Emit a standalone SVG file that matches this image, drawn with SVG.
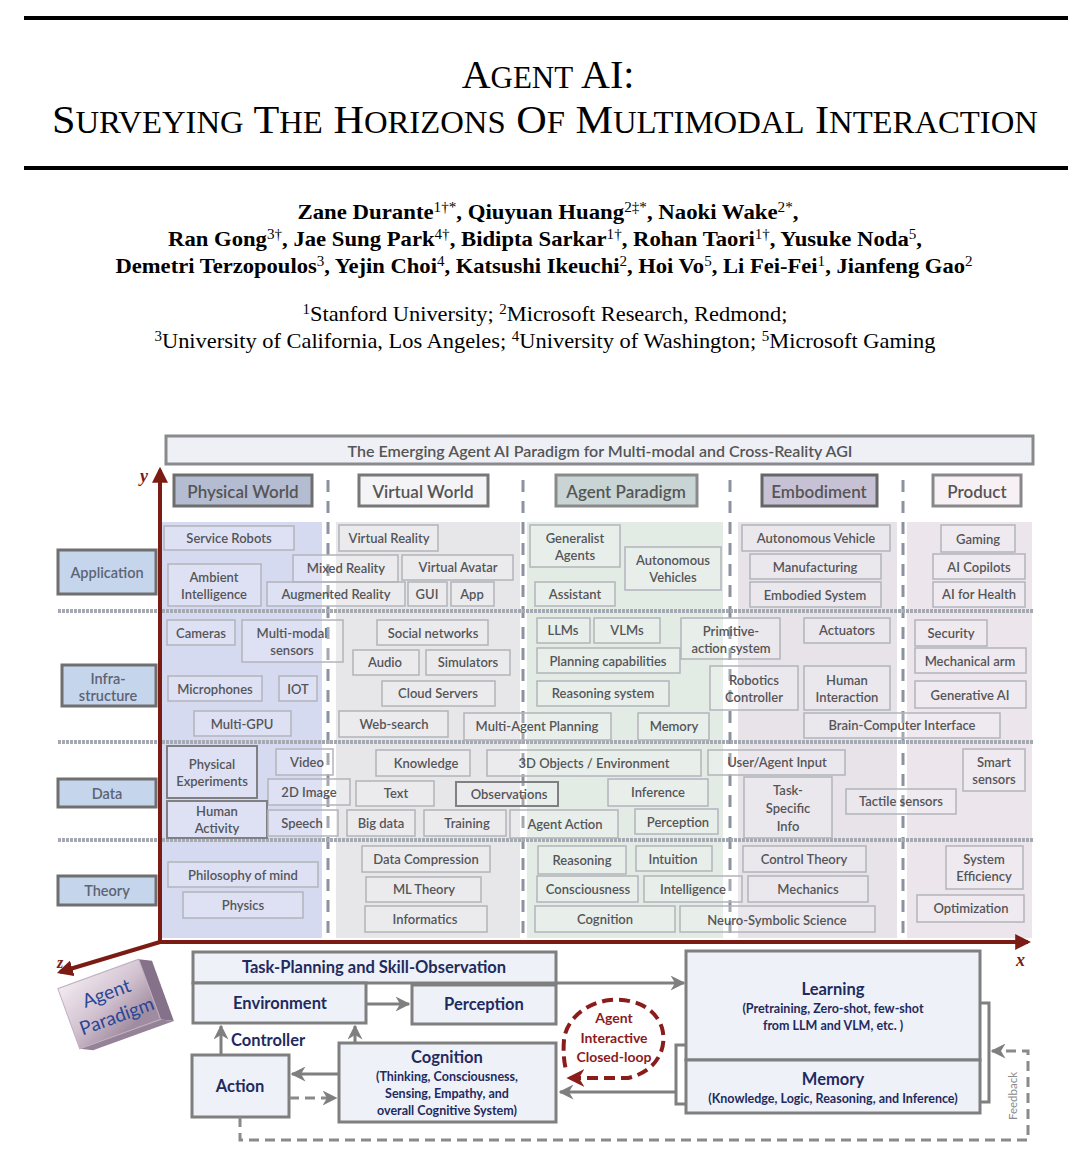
<svg xmlns="http://www.w3.org/2000/svg" width="1080" height="1159" viewBox="0 0 1080 1159">
<defs>
<style>
.ser{font-family:"Liberation Serif","Times New Roman",serif;fill:#000;text-anchor:middle}
.bx{fill:#ffffff;fill-opacity:0.2;stroke:#b2b4ba;stroke-width:1.5}
.bxd{fill:#ffffff;fill-opacity:0.2;stroke:#808084;stroke-width:2}
.t{font-family:Lato,"Liberation Sans",sans-serif;font-size:13px;font-weight:600;fill:#555559;text-anchor:middle;dominant-baseline:central}
.rl{fill:#c5d5ec;stroke:#6f6f6f;stroke-width:3}
.rlt{font-family:Lato,"Liberation Sans",sans-serif;font-size:14.5px;font-weight:600;fill:#5d6474;text-anchor:middle;dominant-baseline:central}
.ct{font-family:Lato,"Liberation Sans",sans-serif;font-size:17px;font-weight:600;fill:#555;text-anchor:middle;dominant-baseline:central}
.bb{fill:#eef1f8;stroke:#7f7f7f;stroke-width:3}
.bt{font-family:Lato,"Liberation Sans",sans-serif;font-size:16.5px;font-weight:700;fill:#1f2b5e;text-anchor:middle;dominant-baseline:central}
.bs{font-family:Lato,"Liberation Sans",sans-serif;font-size:12.5px;font-weight:700;fill:#1f2b5e;text-anchor:middle;dominant-baseline:central}
.div{stroke:#8c93a0;stroke-width:3;stroke-dasharray:12 9;fill:none}
.sep{stroke:#a5a9b1;stroke-width:4;stroke-dasharray:3 1}
.ax{stroke:#7b1c14;stroke-width:4;fill:none}
.ar{stroke:#7f7f7f;stroke-width:3;fill:none}
.ard{stroke:#8a8a8a;stroke-width:3;fill:none;stroke-dasharray:10 6}
</style>
<marker id="ah" viewBox="0 0 10 10" refX="9" refY="5" markerWidth="5" markerHeight="5" orient="auto" markerUnits="strokeWidth">
<path d="M0,0 L10,5 L0,10 L3,5 z" fill="#7f7f7f"/>
</marker>
<marker id="axh" viewBox="0 0 10 10" refX="8" refY="5" markerWidth="4" markerHeight="4" orient="auto" markerUnits="strokeWidth">
<path d="M0,0 L10,5 L0,10 z" fill="#7b1c14"/>
</marker>
<marker id="rh" viewBox="0 0 10 10" refX="8" refY="5" markerWidth="4.5" markerHeight="4.5" orient="auto-start-reverse" markerUnits="strokeWidth">
<path d="M0,0 L10,5 L0,10 L3,5 z" fill="#8b1c1c"/>
</marker>
<linearGradient id="blk" x1="0" y1="0" x2="0.6" y2="1">
<stop offset="0" stop-color="#f2eaf1"/>
<stop offset="0.55" stop-color="#d2c2d0"/>
<stop offset="1" stop-color="#a08ca0"/>
</linearGradient>
</defs>
<rect width="1080" height="1159" fill="#ffffff"/>

<g id="title">
<rect x="24" y="16" width="1044" height="4" fill="#000"/>
<text class="ser" x="548" y="88" font-size="40">A<tspan font-size="31">GENT</tspan> AI:</text>
<text class="ser" x="545" y="133" font-size="40" textLength="986" lengthAdjust="spacingAndGlyphs">S<tspan font-size="31">URVEYING</tspan> T<tspan font-size="31">HE</tspan> H<tspan font-size="31">ORIZONS</tspan> O<tspan font-size="31">F</tspan> M<tspan font-size="31">ULTIMODAL</tspan> I<tspan font-size="31">NTERACTION</tspan></text>
<rect x="24" y="166" width="1044" height="4" fill="#000"/>
</g>

<g id="authors" font-weight="bold">
<text class="ser" x="548" y="219" font-size="21" font-weight="bold" textLength="501" lengthAdjust="spacingAndGlyphs">Zane Durante<tspan font-size="14" font-weight="normal" baseline-shift="super">1†*</tspan>, Qiuyuan Huang<tspan font-size="14" font-weight="normal" baseline-shift="super">2‡*</tspan>, Naoki Wake<tspan font-size="14" font-weight="normal" baseline-shift="super">2*</tspan>,</text>
<text class="ser" x="545" y="246" font-size="21" font-weight="bold" textLength="754" lengthAdjust="spacingAndGlyphs">Ran Gong<tspan font-size="14" font-weight="normal" baseline-shift="super">3†</tspan>, Jae Sung Park<tspan font-size="14" font-weight="normal" baseline-shift="super">4†</tspan>, Bidipta Sarkar<tspan font-size="14" font-weight="normal" baseline-shift="super">1†</tspan>, Rohan Taori<tspan font-size="14" font-weight="normal" baseline-shift="super">1†</tspan>, Yusuke Noda<tspan font-size="14" font-weight="normal" baseline-shift="super">5</tspan>,</text>
<text class="ser" x="544" y="273" font-size="21" font-weight="bold" textLength="857" lengthAdjust="spacingAndGlyphs">Demetri Terzopoulos<tspan font-size="14" font-weight="normal" baseline-shift="super">3</tspan>, Yejin Choi<tspan font-size="14" font-weight="normal" baseline-shift="super">4</tspan>, Katsushi Ikeuchi<tspan font-size="14" font-weight="normal" baseline-shift="super">2</tspan>, Hoi Vo<tspan font-size="14" font-weight="normal" baseline-shift="super">5</tspan>, Li Fei-Fei<tspan font-size="14" font-weight="normal" baseline-shift="super">1</tspan>, Jianfeng Gao<tspan font-size="14" font-weight="normal" baseline-shift="super">2</tspan></text>
</g>
<g id="affiliations">
<text class="ser" x="545" y="321" font-size="21" textLength="485" lengthAdjust="spacingAndGlyphs"><tspan font-size="14" baseline-shift="super">1</tspan>Stanford University; <tspan font-size="14" baseline-shift="super">2</tspan>Microsoft Research, Redmond;</text>
<text class="ser" x="545" y="348" font-size="21" textLength="781" lengthAdjust="spacingAndGlyphs"><tspan font-size="14" baseline-shift="super">3</tspan>University of California, Los Angeles; <tspan font-size="14" baseline-shift="super">4</tspan>University of Washington; <tspan font-size="14" baseline-shift="super">5</tspan>Microsoft Gaming</text>
</g>

<g id="column-backgrounds">
<rect x="162" y="522" width="160" height="416" fill="#d6daf0"/>
<rect x="336" y="522" width="184" height="416" fill="#e7e7ea"/>
<rect x="527" y="522" width="196" height="416" fill="#e3ebe5"/>
<rect x="738" y="522" width="159" height="416" fill="#e7e3e9"/>
<rect x="907" y="522" width="125" height="416" fill="#ece5eb"/>
</g>

<g id="header">
<rect x="166" y="436" width="867" height="28" fill="#eef0f6" stroke="#8a8a8e" stroke-width="3"/>
<text x="600" y="450" font-family="Lato,'Liberation Sans',sans-serif" font-size="16" font-weight="600" fill="#555" text-anchor="middle" dominant-baseline="central">The Emerging Agent AI Paradigm for Multi-modal and Cross-Reality AGI</text>
</g>

<g id="cat-physical"><rect x="174" y="475" width="138" height="31" fill="#b4bcd2" stroke="#6e6e6e" stroke-width="3"/><text class="ct" x="243" y="491">Physical World</text></g>
<g id="cat-virtual"><rect x="359" y="475" width="129" height="31" fill="#f4f4f7" stroke="#777" stroke-width="3"/><text class="ct" x="423" y="491">Virtual World</text></g>
<g id="cat-agent"><rect x="556" y="475" width="141" height="31" fill="#c9d5d5" stroke="#8a8a8a" stroke-width="3"/><text class="ct" x="626" y="491" font-size="15.5">Agent Paradigm</text></g>
<g id="cat-embodiment"><rect x="762" y="475" width="115" height="31" fill="#c7c1d5" stroke="#666" stroke-width="3"/><text class="ct" x="819" y="491">Embodiment</text></g>
<g id="cat-product"><rect x="933" y="475" width="88" height="31" fill="#f7f1f5" stroke="#888" stroke-width="3"/><text class="ct" x="977" y="491">Product</text></g>

<g id="dividers">
<line class="div" x1="328" y1="480" x2="328" y2="940"/>
<line class="div" x1="523" y1="480" x2="523" y2="940"/>
<line class="div" x1="730" y1="480" x2="730" y2="940"/>
<line class="div" x1="903" y1="480" x2="903" y2="940"/>
</g>

<g id="row-separators">
<line class="sep" x1="58" y1="611" x2="1033" y2="611"/>
<line class="sep" x1="58" y1="742" x2="1033" y2="742"/>
<line class="sep" x1="58" y1="840" x2="1033" y2="840"/>
</g>

<g id="row-application"><rect class="rl" x="58" y="550" width="98" height="44"/><text class="rlt" x="107" y="572">Application</text></g>
<g id="row-infra"><rect class="rl" x="62" y="665" width="94" height="41"/><text class="rlt" x="108" y="686"><tspan x="108" dy="-8.5">Infra-</tspan><tspan x="108" dy="17">structure</tspan></text></g>
<g id="row-data"><rect class="rl" x="58" y="779" width="98" height="28"/><text class="rlt" x="107" y="793">Data</text></g>
<g id="row-theory"><rect class="rl" x="58" y="876" width="98" height="29"/><text class="rlt" x="107" y="890">Theory</text></g>

<!-- Application row -->
<g id="n-service-robots"><rect class="bx" x="164" y="526" width="130" height="24"/><text class="t" x="229" y="538">Service Robots</text></g>
<g id="n-ambient"><rect class="bx" x="168" y="564" width="93" height="42"/><text class="t" x="214" y="585"><tspan x="214" dy="-8.5">Ambient</tspan><tspan x="214" dy="17">Intelligence</tspan></text></g>
<g id="n-mixed-reality"><rect class="bx" x="293" y="555" width="105" height="27"/><text class="t" x="346" y="568">Mixed Reality</text></g>
<g id="n-augmented-reality"><rect class="bx" x="267" y="582" width="138" height="24"/><text class="t" x="336" y="594">Augmented Reality</text></g>
<g id="n-virtual-reality"><rect class="bx" x="339" y="525" width="99" height="26"/><text class="t" x="389" y="538">Virtual Reality</text></g>
<g id="n-virtual-avatar"><rect class="bx" x="402" y="555" width="111" height="25"/><text class="t" x="458" y="567">Virtual Avatar</text></g>
<g id="n-gui"><rect class="bx" x="408" y="582" width="39" height="24"/><text class="t" x="427" y="594">GUI</text></g>
<g id="n-app"><rect class="bx" x="451" y="582" width="43" height="24"/><text class="t" x="472" y="594">App</text></g>
<g id="n-generalist"><rect class="bx" x="530" y="525" width="90" height="42"/><text class="t" x="575" y="546"><tspan x="575" dy="-8.5">Generalist</tspan><tspan x="575" dy="17">Agents</tspan></text></g>
<g id="n-autonomous-vehicles"><rect class="bx" x="625" y="547" width="96" height="43"/><text class="t" x="673" y="568"><tspan x="673" dy="-8.5">Autonomous</tspan><tspan x="673" dy="17">Vehicles</tspan></text></g>
<g id="n-assistant"><rect class="bx" x="535" y="582" width="80" height="24"/><text class="t" x="575" y="594">Assistant</text></g>
<g id="n-autonomous-vehicle"><rect class="bx" x="742" y="525" width="148" height="26"/><text class="t" x="816" y="538">Autonomous Vehicle</text></g>
<g id="n-manufacturing"><rect class="bx" x="750" y="554" width="131" height="25"/><text class="t" x="815" y="567">Manufacturing</text></g>
<g id="n-embodied-system"><rect class="bx" x="750" y="582" width="131" height="25"/><text class="t" x="815" y="595">Embodied System</text></g>
<g id="n-gaming"><rect class="bx" x="941" y="525" width="74" height="27"/><text class="t" x="978" y="539">Gaming</text></g>
<g id="n-ai-copilots"><rect class="bx" x="933" y="554" width="92" height="25"/><text class="t" x="979" y="567">AI Copilots</text></g>
<g id="n-ai-health"><rect class="bx" x="933" y="582" width="92" height="25"/><text class="t" x="979" y="594">AI for Health</text></g>

<!-- Infrastructure row -->
<g id="n-cameras"><rect class="bx" x="167" y="620" width="68" height="25"/><text class="t" x="201" y="633">Cameras</text></g>
<g id="n-multimodal-sensors"><rect class="bx" x="242" y="620" width="101" height="42"/><text class="t" x="292" y="641"><tspan x="292" dy="-8.5">Multi-modal</tspan><tspan x="292" dy="17">sensors</tspan></text></g>
<g id="n-microphones"><rect class="bx" x="168" y="676" width="94" height="25"/><text class="t" x="215" y="689">Microphones</text></g>
<g id="n-iot"><rect class="bx" x="279" y="676" width="38" height="25"/><text class="t" x="298" y="689">IOT</text></g>
<g id="n-multi-gpu"><rect class="bx" x="194" y="711" width="97" height="25"/><text class="t" x="242" y="724">Multi-GPU</text></g>
<g id="n-social-networks"><rect class="bx" x="377" y="620" width="111" height="25"/><text class="t" x="433" y="633">Social networks</text></g>
<g id="n-audio"><rect class="bx" x="353" y="650" width="66" height="25"/><text class="t" x="385" y="662">Audio</text></g>
<g id="n-simulators"><rect class="bx" x="426" y="650" width="84" height="25"/><text class="t" x="468" y="662">Simulators</text></g>
<g id="n-cloud-servers"><rect class="bx" x="382" y="681" width="113" height="25"/><text class="t" x="438" y="693">Cloud Servers</text></g>
<g id="n-web-search"><rect class="bx" x="339" y="711" width="109" height="26"/><text class="t" x="394" y="724">Web-search</text></g>
<g id="n-multi-agent-planning"><rect class="bx" x="464" y="713" width="147" height="27"/><text class="t" x="537" y="726">Multi-Agent Planning</text></g>
<g id="n-llms"><rect class="bx" x="537" y="618" width="53" height="25"/><text class="t" x="563" y="630">LLMs</text></g>
<g id="n-vlms"><rect class="bx" x="594" y="618" width="66" height="25"/><text class="t" x="627" y="630">VLMs</text></g>
<g id="n-planning"><rect class="bx" x="537" y="648" width="143" height="25"/><text class="t" x="608" y="661">Planning capabilities</text></g>
<g id="n-reasoning-system"><rect class="bx" x="537" y="681" width="132" height="25"/><text class="t" x="603" y="693">Reasoning system</text></g>
<g id="n-primitive"><rect class="bx" x="681" y="618" width="99" height="41"/><text class="t" x="731" y="639"><tspan x="731" dy="-8.5">Primitive-</tspan><tspan x="731" dy="17">action system</tspan></text></g>
<g id="n-memory-i"><rect class="bx" x="638" y="713" width="71" height="27"/><text class="t" x="674" y="726">Memory</text></g>
<g id="n-robotics"><rect class="bx" x="710" y="666" width="88" height="44"/><text class="t" x="754" y="688"><tspan x="754" dy="-8.5">Robotics</tspan><tspan x="754" dy="17">Controller</tspan></text></g>
<g id="n-actuators"><rect class="bx" x="804" y="618" width="86" height="25"/><text class="t" x="847" y="630">Actuators</text></g>
<g id="n-human-interaction"><rect class="bx" x="804" y="666" width="86" height="44"/><text class="t" x="847" y="688"><tspan x="847" dy="-8.5">Human</tspan><tspan x="847" dy="17">Interaction</tspan></text></g>
<g id="n-bci"><rect class="bx" x="804" y="713" width="196" height="25"/><text class="t" x="902" y="725">Brain-Computer Interface</text></g>
<g id="n-security"><rect class="bx" x="915" y="620" width="72" height="26"/><text class="t" x="951" y="633">Security</text></g>
<g id="n-mechanical-arm"><rect class="bx" x="915" y="648" width="111" height="25"/><text class="t" x="970" y="661">Mechanical arm</text></g>
<g id="n-generative-ai"><rect class="bx" x="915" y="681" width="111" height="27"/><text class="t" x="970" y="695">Generative AI</text></g>

<!-- Data row -->
<g id="n-physical-experiments"><rect class="bxd" x="167" y="746" width="90" height="52"/><text class="t" x="212" y="772"><tspan x="212" dy="-8.5">Physical</tspan><tspan x="212" dy="17">Experiments</tspan></text></g>
<g id="n-video"><rect class="bx" x="276" y="749" width="57" height="26"/><text class="t" x="307" y="762">Video</text></g>
<g id="n-2d-image"><rect class="bx" x="268" y="779" width="82" height="26"/><text class="t" x="309" y="792">2D Image</text></g>
<g id="n-human-activity"><rect class="bxd" x="167" y="801" width="100" height="37"/><text class="t" x="217" y="819"><tspan x="217" dy="-8.5">Human</tspan><tspan x="217" dy="17">Activity</tspan></text></g>
<g id="n-speech"><rect class="bx" x="268" y="810" width="70" height="26"/><text class="t" x="302" y="823">Speech</text></g>
<g id="n-knowledge"><rect class="bx" x="376" y="750" width="94" height="26"/><text class="t" x="426" y="763">Knowledge</text></g>
<g id="n-text"><rect class="bx" x="356" y="781" width="78" height="25"/><text class="t" x="396" y="793">Text</text></g>
<g id="n-big-data"><rect class="bx" x="347" y="810" width="68" height="26"/><text class="t" x="381" y="823">Big data</text></g>
<g id="n-training"><rect class="bx" x="424" y="810" width="82" height="26"/><text class="t" x="467" y="823">Training</text></g>
<g id="n-3d-objects"><rect class="bx" x="487" y="750" width="214" height="26"/><text class="t" x="594" y="763">3D Objects / Environment</text></g>
<g id="n-observations"><rect class="bxd" x="456" y="782" width="102" height="24"/><text class="t" x="509" y="794">Observations</text></g>
<g id="n-inference"><rect class="bx" x="608" y="779" width="100" height="27"/><text class="t" x="658" y="792">Inference</text></g>
<g id="n-agent-action"><rect class="bx" x="510" y="810" width="108" height="28"/><text class="t" x="565" y="824">Agent Action</text></g>
<g id="n-perception-d"><rect class="bx" x="635" y="809" width="83" height="25"/><text class="t" x="678" y="822">Perception</text></g>
<g id="n-user-input"><rect class="bx" x="708" y="750" width="137" height="25"/><text class="t" x="777" y="762">User/Agent  Input</text></g>
<g id="n-task-specific"><rect class="bx" x="744" y="777" width="88" height="61"/><text class="t" x="788" y="808"><tspan x="788" dy="-18">Task-</tspan><tspan x="788" dy="18">Specific</tspan><tspan x="788" dy="18">Info</tspan></text></g>
<g id="n-tactile"><rect class="bx" x="846" y="789" width="110" height="25"/><text class="t" x="901" y="801">Tactile sensors</text></g>
<g id="n-smart-sensors"><rect class="bx" x="963" y="749" width="62" height="42"/><text class="t" x="994" y="770"><tspan x="994" dy="-8.5">Smart</tspan><tspan x="994" dy="17">sensors</tspan></text></g>

<!-- Theory row -->
<g id="n-philosophy"><rect class="bx" x="168" y="862" width="150" height="25"/><text class="t" x="243" y="875">Philosophy of mind</text></g>
<g id="n-physics"><rect class="bx" x="183" y="892" width="120" height="26"/><text class="t" x="243" y="905">Physics</text></g>
<g id="n-data-compression"><rect class="bx" x="362" y="846" width="128" height="26"/><text class="t" x="426" y="859">Data Compression</text></g>
<g id="n-ml-theory"><rect class="bx" x="366" y="877" width="115" height="25"/><text class="t" x="424" y="889">ML Theory</text></g>
<g id="n-informatics"><rect class="bx" x="365" y="906" width="122" height="26"/><text class="t" x="425" y="919">Informatics</text></g>
<g id="n-reasoning"><rect class="bx" x="538" y="846" width="88" height="28"/><text class="t" x="582" y="860">Reasoning</text></g>
<g id="n-intuition"><rect class="bx" x="636" y="846" width="76" height="25"/><text class="t" x="673" y="859">Intuition</text></g>
<g id="n-consciousness"><rect class="bx" x="537" y="876" width="101" height="26"/><text class="t" x="588" y="889">Consciousness</text></g>
<g id="n-intelligence"><rect class="bx" x="644" y="876" width="98" height="26"/><text class="t" x="693" y="889">Intelligence</text></g>
<g id="n-cognition-t"><rect class="bx" x="535" y="906" width="140" height="26"/><text class="t" x="605" y="919">Cognition</text></g>
<g id="n-neuro-symbolic"><rect class="bx" x="680" y="906" width="195" height="26"/><text class="t" x="777" y="920">Neuro-Symbolic Science</text></g>
<g id="n-control-theory"><rect class="bx" x="743" y="846" width="123" height="26"/><text class="t" x="804" y="859">Control Theory</text></g>
<g id="n-mechanics"><rect class="bx" x="748" y="876" width="120" height="26"/><text class="t" x="808" y="889">Mechanics</text></g>
<g id="n-system-efficiency"><rect class="bx" x="946" y="846" width="77" height="43"/><text class="t" x="984" y="867"><tspan x="984" dy="-8.5">System</tspan><tspan x="984" dy="17">Efficiency</tspan></text></g>
<g id="n-optimization"><rect class="bx" x="917" y="895" width="107" height="27"/><text class="t" x="971" y="908">Optimization</text></g>

<g id="axes">
<line class="ax" x1="160" y1="944" x2="160" y2="470" marker-end="url(#axh)"/>
<line class="ax" x1="158" y1="942" x2="1028" y2="942" marker-end="url(#axh)"/>
<line class="ax" x1="160" y1="942" x2="60" y2="972" marker-end="url(#axh)"/>
<text x="140" y="482" font-family="'Liberation Serif',serif" font-style="italic" font-weight="bold" font-size="18" fill="#7b1c14">y</text>
<text x="1016" y="966" font-family="'Liberation Serif',serif" font-style="italic" font-weight="bold" font-size="18" fill="#7b1c14">x</text>
<text x="57" y="968" font-family="'Liberation Serif',serif" font-style="italic" font-weight="bold" font-size="16" fill="#7b1c14">z</text>
</g>

<g id="agent-paradigm-block" transform="translate(112,1003) rotate(-20)">
<polygon points="40,-32 52,-26 52,38 40,32" fill="#85728a"/>
<polygon points="-46,32 40,32 52,38 -34,38" fill="#958299"/>
<rect x="-46" y="-32" width="86" height="64" fill="url(#blk)" stroke="#bfb0bf" stroke-width="1"/>
<text x="-2" y="-12" font-family="Lato,'Liberation Sans',sans-serif" font-size="19" fill="#2a4696" text-anchor="middle" dominant-baseline="central">Agent</text>
<text x="0" y="13" font-family="Lato,'Liberation Sans',sans-serif" font-size="19" fill="#2a4696" text-anchor="middle" dominant-baseline="central">Paradigm</text>
</g>

<g id="n-task-planning"><rect class="bb" x="193" y="952" width="363" height="31"/><text class="bt" x="374" y="967">Task-Planning and Skill-Observation</text></g>
<g id="n-environment"><rect class="bb" x="193" y="983" width="173" height="40"/><text class="bt" x="280" y="1003">Environment</text></g>
<g id="n-perception"><rect class="bb" x="412" y="985" width="144" height="39"/><text class="bt" x="484" y="1004">Perception</text></g>
<g id="n-action"><rect class="bb" x="192" y="1055" width="97" height="62"/><text class="bt" x="240" y="1086">Action</text></g>
<g id="n-cognition"><rect class="bb" x="339" y="1043" width="217" height="79"/><text class="bt" x="447" y="1057">Cognition</text><text class="bs" x="447" y="1076">(Thinking, Consciousness,</text><text class="bs" x="447" y="1093">Sensing, Empathy, and</text><text class="bs" x="447" y="1110">overall Cognitive System)</text></g>
<g id="n-learning"><rect class="bb" x="686" y="951" width="294" height="109"/><text class="bt" x="833" y="989">Learning</text><text class="bs" x="833" y="1008">(Pretraining, Zero-shot, few-shot</text><text class="bs" x="833" y="1025">from LLM and VLM, etc. )</text></g>
<g id="n-memory"><rect class="bb" x="686" y="1060" width="294" height="53"/><text class="bt" x="833" y="1079">Memory</text><text class="bs" x="833" y="1098">(Knowledge, Logic, Reasoning, and Inference)</text></g>
<g id="n-closed-loop">
<path d="M570,1078 L628,1078 C655,1072 668,1050 662,1028 C655,1006 632,998 610,1000 C585,1003 566,1020 564,1040 C563,1052 564,1062 566,1070" fill="none" stroke="#8b1c1c" stroke-width="4" stroke-dasharray="11 6" marker-start="url(#rh)"/>
<text x="614" y="1017" font-family="Lato,'Liberation Sans',sans-serif" font-size="14" font-weight="700" fill="#8b1c1c" text-anchor="middle" dominant-baseline="central">Agent</text>
<text x="614" y="1037" font-family="Lato,'Liberation Sans',sans-serif" font-size="14" font-weight="700" fill="#8b1c1c" text-anchor="middle" dominant-baseline="central">Interactive</text>
<text x="614" y="1056" font-family="Lato,'Liberation Sans',sans-serif" font-size="14" font-weight="700" fill="#8b1c1c" text-anchor="middle" dominant-baseline="central">Closed-loop</text>
</g>

<g id="connectors">
<path class="ar" d="M366,1004 H409" marker-end="url(#ah)"/>
<path class="ar" d="M556,983 H684" marker-end="url(#ah)"/>
<path class="ar" d="M221,1055 V1026" marker-end="url(#ah)"/>
<path class="ar" d="M355,1043 V1026" marker-end="url(#ah)"/>
<path class="ar" d="M339,1074 H292" marker-end="url(#ah)"/>
<path class="ard" d="M289,1098 H336" marker-end="url(#ah)"/>
<path class="ar" d="M686,1045 H676 V1104 H686"/>
<path class="ar" d="M980,1003 H989 V1102 H980"/>
<path class="ar" d="M676,1092 H560" marker-end="url(#ah)"/>
<path class="ard" d="M240,1117 V1140 H1028 V1051 H992" marker-end="url(#ah)"/>
<text x="1012" y="1096" transform="rotate(-90 1012 1096)" font-family="Lato,'Liberation Sans',sans-serif" font-size="11.5" fill="#8a8a8a" text-anchor="middle" dominant-baseline="central">Feedback</text>
<text x="231" y="1040" font-family="Lato,'Liberation Sans',sans-serif" font-size="16.5" font-weight="700" fill="#1f2b5e" dominant-baseline="central">Controller</text>
</g>
</svg>
